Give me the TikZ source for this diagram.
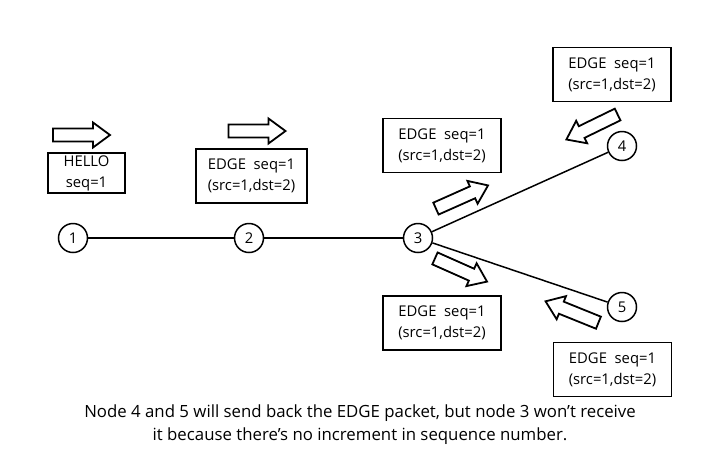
\documentclass[tikz,border=0pt]{standalone}
\usepackage{fontspec}
\setmainfont{Open Sans}
\begin{document}
\begin{tikzpicture}[x=1pt, y=-1pt, line width=1.5pt,
    main/.style = {draw, circle, minimum size=29pt, inner sep=0pt, line width=1.5pt},
    packet/.style = {draw, line width=1.8pt, align=center, minimum width=118pt, minimum height=54pt, inner sep=2pt},
    pics/fat/.style = {code={
        \draw[line width=1.8pt, line join=miter] (-28.5,-6.5) -- (11.5,-6.5) -- (11.5,-12.5) -- (28.5,0)
            -- (11.5,12.5) -- (11.5,6.5) -- (-28.5,6.5) -- cycle;}},
    font=\fontsize{14.8}{21}\selectfont]
    \useasboundingbox (0,0) rectangle (703,467);

    % Disegna i nodi della rete
    \node[main] (1) at (73,238) {1};
    \node[main] (2) at (249,238) {2};
    \node[main] (3) at (418,238) {3};
    \node[main] (4) at (622,146) {4};
    \node[main] (5) at (622,307) {5};

    \draw (1) -- (2);
    \draw (2) -- (3);
    \draw (3) -- (4);
    \draw (3) -- (5);

    % pacchetti
    \node[packet, minimum width=77pt, minimum height=40pt] (hello) at (86.5,173) {HELLO\\seq=1};
    \node[packet, minimum width=111pt] (e12) at (251.5,176) {EDGE~~seq=1\\(src=1,dst=2)};
    \node[packet] (e34) at (442,145.5) {EDGE~~seq=1\\(src=1,dst=2)};
    \node[packet] (e43) at (612,74.5) {EDGE~~seq=1\\(src=1,dst=2)};
    \node[packet] (e35) at (442,323) {EDGE~~seq=1\\(src=1,dst=2)};
    \node[packet] (e53) at (612.5,369.5) {EDGE~~seq=1\\(src=1,dst=2)};

    % frecce
    \pic at (81.5,135) {fat};
    \pic at (257,131) {fat};
    \pic[rotate=24] at (462,197) {fat};
    \pic[rotate=-24] at (461,270) {fat};
    \pic[rotate=206] at (592,127) {fat};
    \pic[rotate=158] at (572,312) {fat};

    \node[align=center, font=\fontsize{16.8}{23}\selectfont] (note) at (360,424.5)
        {Node 4 and 5 will send back the EDGE packet, but node 3 won't receive\\it because there's no increment in sequence number.};
\end{tikzpicture}
\end{document}
